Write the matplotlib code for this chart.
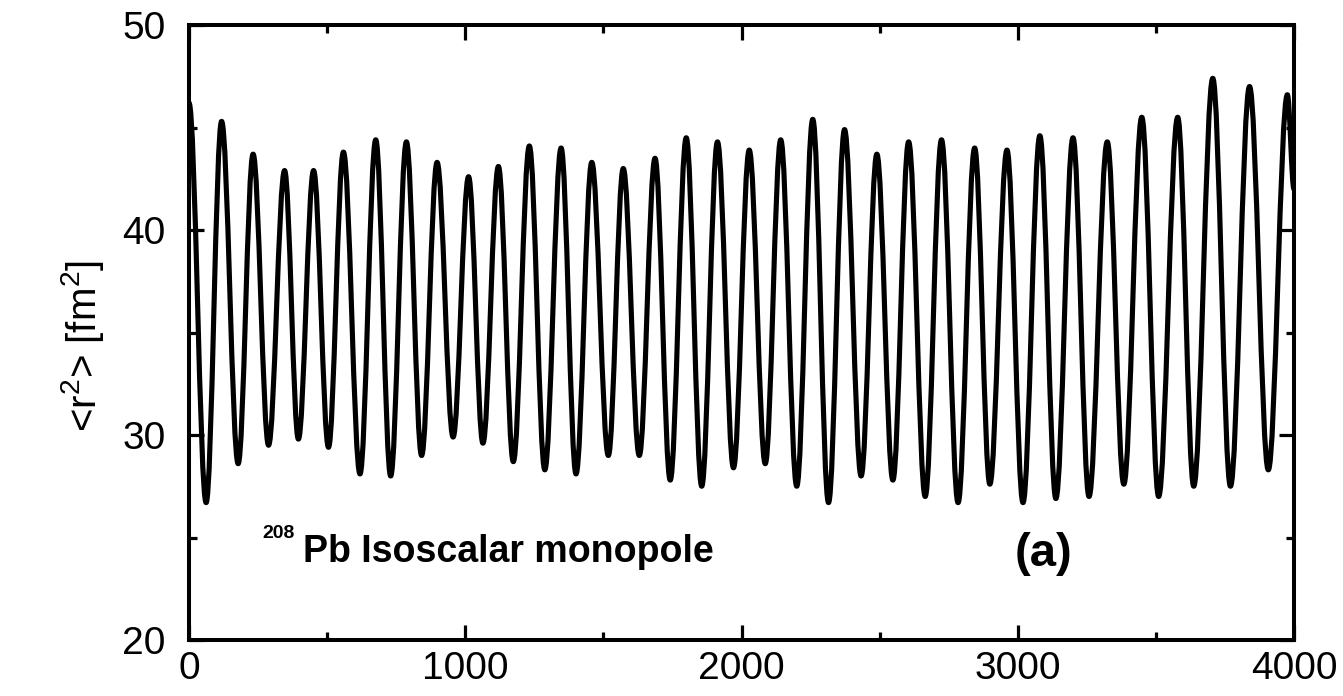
import matplotlib
matplotlib.use('Agg')
import matplotlib.pyplot as plt
from matplotlib.path import Path
from matplotlib.patches import PathPatch
from matplotlib.ticker import MultipleLocator

plt.rcParams['font.family'] = ['Liberation Sans', 'DejaVu Sans']
plt.rcParams['mathtext.default'] = 'regular'

# turning points of <r^2>(t) (alternating max / min)
time_fm = [0, 62, 118, 178, 232, 288, 346, 396, 451, 505,
           559, 619, 676, 730, 787, 842, 898, 956, 1012, 1064,
           1120, 1174, 1232, 1288, 1347, 1401, 1458, 1518, 1572, 1630,
           1687, 1742, 1800, 1856, 1913, 1971, 2028, 2086, 2142, 2200,
           2258, 2315, 2373, 2433, 2490, 2548, 2605, 2665, 2724, 2784,
           2844, 2899, 2961, 3019, 3080, 3138, 3200, 3258, 3324, 3384,
           3449, 3510, 3579, 3637, 3706, 3770, 3839, 3907, 3976, 4000]
r2_fm2 = [46.2, 26.7, 45.3, 28.6, 43.7, 29.5, 42.9, 29.8, 42.9, 29.4,
          43.8, 28.1, 44.4, 28.0, 44.3, 29.0, 43.3, 29.9, 42.6, 29.6,
          43.1, 28.7, 44.1, 28.3, 44.0, 28.1, 43.3, 29.0, 43.0, 29.0,
          43.5, 27.8, 44.5, 27.5, 44.3, 28.4, 43.9, 28.6, 44.4, 27.5,
          45.4, 26.7, 44.9, 28.0, 43.7, 27.8, 44.3, 27.0, 44.4, 26.7,
          44.0, 27.6, 43.9, 26.7, 44.6, 26.9, 44.5, 27.0, 44.3, 27.6,
          45.5, 27.0, 45.5, 27.5, 47.4, 27.5, 47.0, 28.3, 46.6, 42.0]

xticks = [0, 1000, 2000, 3000, 4000]
yticks = [20, 30, 40, 50]

fig = plt.figure(figsize=(13.43, 6.96), dpi=100)
ax = fig.add_axes([189 / 1343, 1 - 640 / 696, 1105 / 1343, 615 / 696])

# smooth curve through the turning points (flat tangents at each extremum)
k = 0.3634
verts = [(time_fm[0], r2_fm2[0])]
codes = [Path.MOVETO]
for i in range(1, len(time_fm)):
    x0, y0 = time_fm[i - 1], r2_fm2[i - 1]
    x1, y1 = time_fm[i], r2_fm2[i]
    dx = x1 - x0
    verts += [(x0 + k * dx, y0), (x1 - k * dx, y1), (x1, y1)]
    codes += [Path.CURVE4] * 3
curve = PathPatch(Path(verts, codes), facecolor='none', edgecolor='black',
                  lw=3.7, joinstyle='round', capstyle='round')
ax.add_patch(curve)

ax.set_xlim(0, 4000)
ax.set_ylim(20, 50)
ax.set_xticks(xticks)
ax.set_yticks(yticks)
ax.xaxis.set_minor_locator(MultipleLocator(500))
ax.yaxis.set_minor_locator(MultipleLocator(5))
for s in ax.spines.values():
    s.set_linewidth(2.9)
ax.tick_params(which='both', direction='in', top=True, right=True, width=2.3)
ax.tick_params(which='major', length=10.5, labelsize=28)
ax.tick_params(which='minor', length=5.8)
ax.tick_params(axis='x', which='major', pad=8)
ax.tick_params(axis='y', which='major', pad=17)

ax.set_ylabel('<r$^2$> [fm$^2$]', fontsize=29)
ax.yaxis.set_label_coords(-0.075, 0.478)

ax.text(266, 25.0, '208', fontsize=14, fontweight='bold', va='baseline')
ax.text(413, 23.8, 'Pb Isoscalar monopole', fontsize=27, fontweight='bold',
        va='baseline')
ax.text(3095, 23.6, '(a)', fontsize=34, fontweight='bold', ha='center',
        va='baseline')

fig.savefig('out.png', dpi=100)
